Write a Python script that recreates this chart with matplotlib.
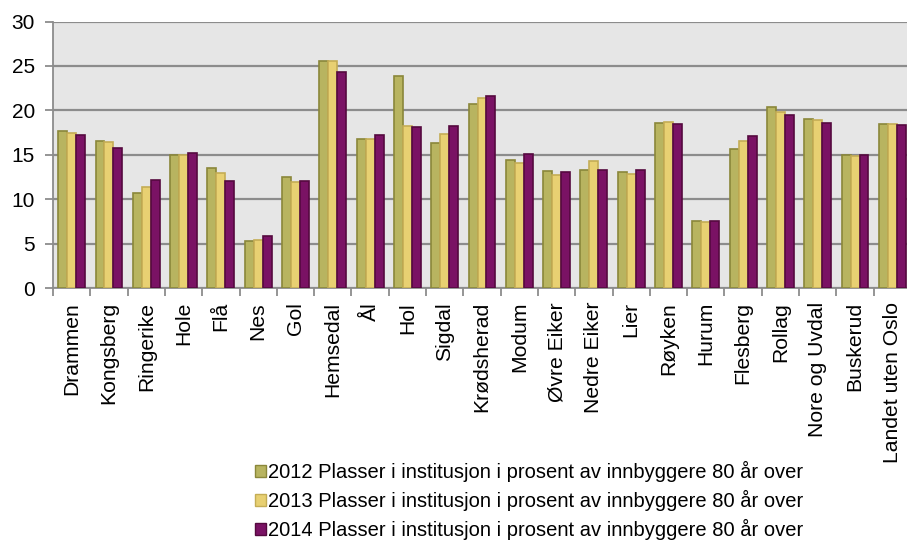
import matplotlib.pyplot as plt
import numpy as np
from matplotlib.patches import Patch

kommuner = ['Drammen', 'Kongsberg', 'Ringerike', 'Hole', 'Flå', 'Nes', 'Gol',
            'Hemsedal', 'Ål', 'Hol', 'Sigdal', 'Krødsherad', 'Modum',
            'Øvre Eiker', 'Nedre Eiker', 'Lier', 'Røyken', 'Hurum', 'Flesberg',
            'Rollag', 'Nore og Uvdal', 'Buskerud', 'Landet uten Oslo']

verdier_2012 = [17.7, 16.6, 10.7, 15.0, 13.5, 5.3, 12.5, 25.6, 16.8, 23.9, 16.3,
                20.7, 14.4, 13.2, 13.3, 13.1, 18.6, 7.5, 15.6, 20.4, 19.0, 15.0, 18.5]
verdier_2013 = [17.5, 16.4, 11.4, 15.0, 13.0, 5.4, 11.9, 25.6, 16.8, 18.2, 17.3,
                21.4, 14.1, 12.7, 14.3, 12.8, 18.7, 7.4, 16.6, 19.8, 18.9, 14.9, 18.5]
verdier_2014 = [17.2, 15.8, 12.2, 15.2, 12.0, 5.8, 12.1, 24.3, 17.2, 18.1, 18.2,
                21.6, 15.1, 13.1, 13.3, 13.3, 18.5, 7.5, 17.1, 19.5, 18.6, 15.0, 18.4]

etiketter = ['2012 Plasser i institusjon i prosent av innbyggere 80 år over',
             '2013 Plasser i institusjon i prosent av innbyggere 80 år over',
             '2014 Plasser i institusjon i prosent av innbyggere 80 år over']

farger = ['#b8b460', '#e8d072', '#7a1264']
kanter = ['#8a873a', '#c4ad55', '#55093f']

plt.rcParams['font.family'] = ['Liberation Sans', 'DejaVu Sans']

fig = plt.figure(figsize=(9.07, 5.44), dpi=100)
ax = fig.add_axes([53 / 907, 1 - 288 / 544, 858 / 907, (288 - 21.5) / 544])
ax.set_facecolor('#e6e6e6')

x = np.arange(len(kommuner))
bw = 0.24
for i, vals in enumerate([verdier_2012, verdier_2013, verdier_2014]):
    ax.bar(x + (i - 1) * bw, vals, bw, color=farger[i], edgecolor=kanter[i],
           linewidth=1.2, zorder=3)

ax.set_xlim(-0.5, len(kommuner) - 0.5)
ax.set_ylim(0, 30)
ax.set_yticks(range(0, 31, 5))
ax.grid(axis='y', color='#8c8c8c', linewidth=1.6, zorder=1)
ax.set_axisbelow(True)

for s in ['top', 'right']:
    ax.spines[s].set_visible(False)
for s in ['left', 'bottom']:
    ax.spines[s].set_color('#8c8c8c')
    ax.spines[s].set_linewidth(1.3)

# tick marks between categories, labels centered
ax.set_xticks(np.arange(len(kommuner) + 1) - 0.5)
ax.set_xticklabels([])
ax.set_xticks(x, minor=True)
ax.set_xticklabels(kommuner, minor=True, rotation=90, fontsize=15.2)
ax.tick_params(axis='x', which='major', length=6, color='#8c8c8c', width=1.3)
ax.tick_params(axis='x', which='minor', length=0, pad=10)
ax.tick_params(axis='y', length=6, color='#8c8c8c', width=1.3, labelsize=15, pad=7)

handles = [Patch(facecolor=farger[i], edgecolor=kanter[i], linewidth=1.0) for i in range(3)]
fig.legend(handles, etiketter, loc='upper left', bbox_to_anchor=(245 / 907, 1 - 451 / 544),
           frameon=False, fontsize=14.5, handlelength=0.55, handleheight=0.55,
           handletextpad=0.1, labelspacing=0.4, borderpad=0)

fig.savefig('out.png', dpi=100)
